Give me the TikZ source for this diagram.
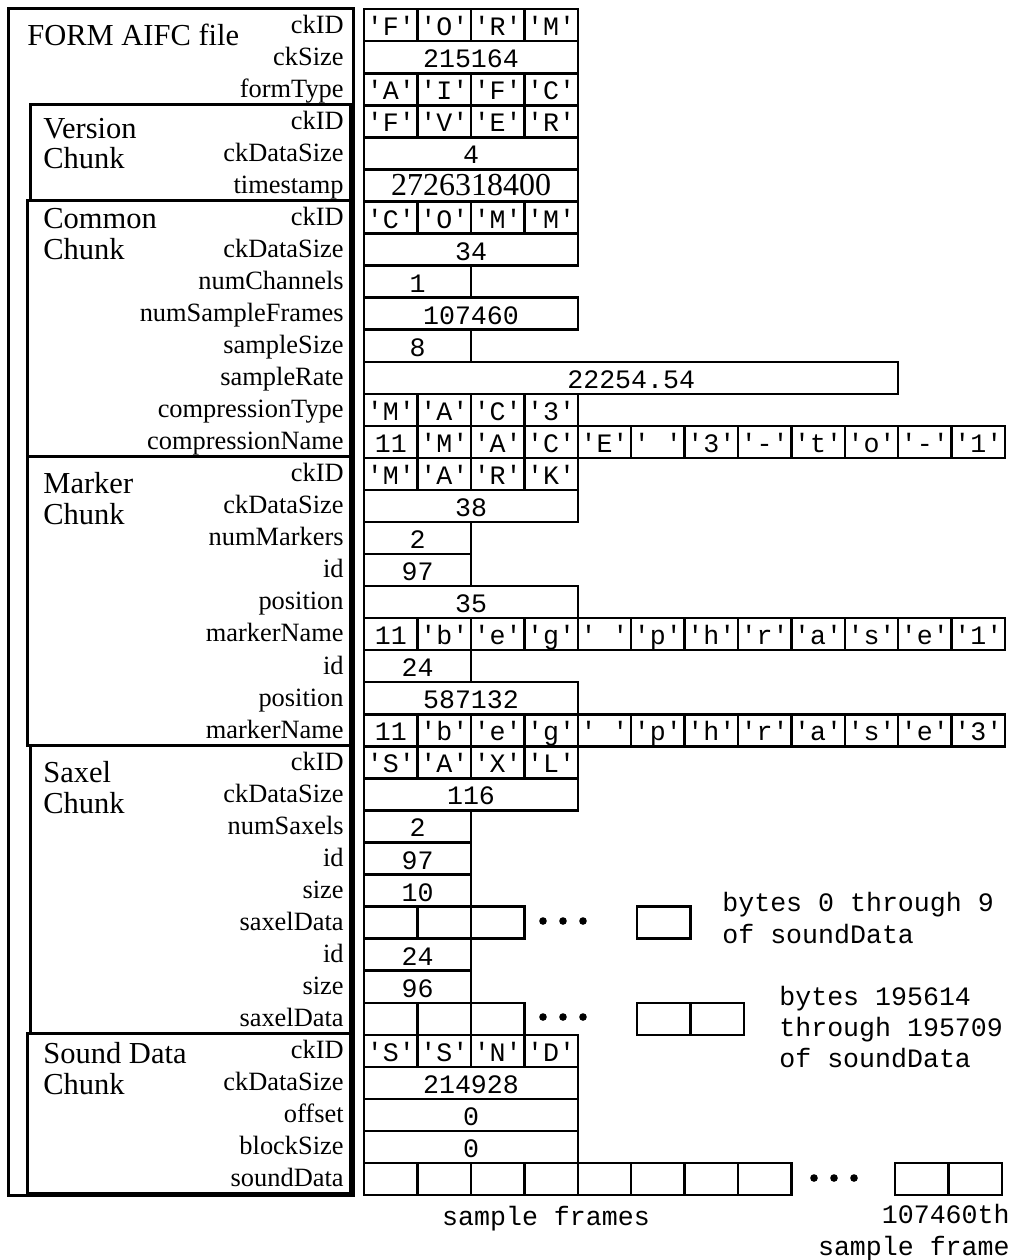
\documentclass[tikz,border=0pt]{standalone}
\usepackage{fontspec}
\setmainfont{Liberation Serif}
\setmonofont{Liberation Mono}
\usetikzlibrary{positioning}

\tikzset{
  cell/.style={draw, line width=1.2pt, anchor=north west, inner sep=0pt,
    minimum width=26.7pt, minimum height=16pt, text height=10.5pt, text depth=0pt,
    font=\fontsize{13.3}{14}\ttfamily},
  lab/.style={anchor=base east, inner sep=0pt, font=\fontsize{13.2}{14}\selectfont},
  ttl/.style={anchor=base west, inner sep=0pt, font=\fontsize{15.25}{16}\selectfont},
  chunk/.style={line width=1.5pt},
  note/.style={anchor=west, inner sep=0pt, align=left, font=\fontsize{13.3}{16}\ttfamily},
}

\begin{document}
\begin{tikzpicture}[x=0.5pt,y=-0.5pt]
\useasboundingbox (0,0) rectangle (1015,1260);

\def\rh{32.05}   % row height
\def\cw{53.4}    % byte width
% one byte per cell
\def\qrow#1#2{\foreach \ch [count=\k from 0] in {#2}
  \node[cell] (r#1c\k) at ({363+\cw*\k},{8+\rh*#1}) {\ch};}
% one wide box
\def\wbox#1#2#3{\node[cell, minimum width=#2*26.7pt] (r#1) at (363,{8+\rh*#1}) {#3};}
% empty cells
\def\brow#1#2#3#4{\foreach \k in {1,...,#4}
  \node[cell] (#1\k) at ({#2+\cw*(\k-1)},{8+\rh*#3}) {};}
% field name
\def\field#1#2{\node[lab] (l#1) at (344,{8+\rh*#1+25}) {#2};}
% dots
\def\ellip#1#2{\foreach \i in {0,1,2} \fill ({#1+20*\i},#2) circle[radius=1.9pt];}

% chunk frames
\draw[chunk] (8,8) rectangle (353,1195);
\draw[chunk] (30,{8+3*\rh}) rectangle (350,{8+6*\rh});
\draw[chunk] (27,{8+6*\rh}) rectangle (350,{8+14*\rh});
\draw[chunk] (27,{8+14*\rh}) rectangle (350,{8+23*\rh});
\draw[chunk] (30,{8+23*\rh}) rectangle (350,{8+32*\rh});
\draw[chunk] (27,{8+32*\rh}) rectangle (350,{8+37*\rh});

% chunk titles
\node[ttl] (tform) at (27,45) {FORM AIFC file};
\node[ttl] (tver) at (43,138) {Version};
\node[ttl] (tver2) at (43,168) {Chunk};
\node[ttl] (tcomm) at (43,228) {Common};
\node[ttl] (tcomm2) at (43,259) {Chunk};
\node[ttl] (tmark) at (43,493) {Marker};
\node[ttl] (tmark2) at (43,524) {Chunk};
\node[ttl] (tsaxl) at (43,782) {Saxel};
\node[ttl] (tsaxl2) at (43,813) {Chunk};
\node[ttl] (tssnd) at (43,1063) {Sound Data};
\node[ttl] (tssnd2) at (43,1094) {Chunk};

% FORM
\field{0}{ckID}        \qrow{0}{'F','O','R','M'}
\field{1}{ckSize}      \wbox{1}{4}{215164}
\field{2}{formType}    \qrow{2}{'A','I','F','C'}
% FVER
\field{3}{ckID}        \qrow{3}{'F','V','E','R'}
\field{4}{ckDataSize}  \wbox{4}{4}{4}
\field{5}{timestamp}   \wbox{5}{4}{\rmfamily\fontsize{16}{18}\selectfont 2726318400}
% COMM
\field{6}{ckID}        \qrow{6}{'C','O','M','M'}
\field{7}{ckDataSize}  \wbox{7}{4}{34}
\field{8}{numChannels} \wbox{8}{2}{1}
\field{9}{numSampleFrames} \wbox{9}{4}{107460}
\field{10}{sampleSize} \wbox{10}{2}{8}
\field{11}{sampleRate} \wbox{11}{10}{22254.54}
\field{12}{compressionType} \qrow{12}{'M','A','C','3'}
\field{13}{compressionName} \qrow{13}{11,'M','A','C','E',' ','3','-','t','o','-','1'}
% MARK
\field{14}{ckID}       \qrow{14}{'M','A','R','K'}
\field{15}{ckDataSize} \wbox{15}{4}{38}
\field{16}{numMarkers} \wbox{16}{2}{2}
\field{17}{id}         \wbox{17}{2}{97}
\field{18}{position}   \wbox{18}{4}{35}
\field{19}{markerName} \qrow{19}{11,'b','e','g',' ','p','h','r','a','s','e','1'}
\field{20}{id}         \wbox{20}{2}{24}
\field{21}{position}   \wbox{21}{4}{587132}
\field{22}{markerName} \qrow{22}{11,'b','e','g',' ','p','h','r','a','s','e','3'}
% SAXL
\field{23}{ckID}       \qrow{23}{'S','A','X','L'}
\field{24}{ckDataSize} \wbox{24}{4}{116}
\field{25}{numSaxels}  \wbox{25}{2}{2}
\field{26}{id}         \wbox{26}{2}{97}
\field{27}{size}       \wbox{27}{2}{10}
\field{28}{saxelData}  \brow{sa}{363}{28}{3} \brow{sz}{636}{28}{1}
\field{29}{id}         \wbox{29}{2}{24}
\field{30}{size}       \wbox{30}{2}{96}
\field{31}{saxelData}  \brow{sb}{363}{31}{3} \brow{sy}{636}{31}{2}
% SSND
\field{32}{ckID}       \qrow{32}{'S','S','N','D'}
\field{33}{ckDataSize} \wbox{33}{4}{214928}
\field{34}{offset}     \wbox{34}{4}{0}
\field{35}{blockSize}  \wbox{35}{4}{0}
\field{36}{soundData}  \brow{fr}{363}{36}{8} \brow{fl}{894}{36}{2}

\ellip{543}{921}
\ellip{543}{1017}
\ellip{814}{1178}

% notes
\node[note] (n0) at (722,918) {bytes 0 through 9\\of soundData};
\node[note, font=\fontsize{13.3}{15.5}\ttfamily] (n1) at (779,1027) {bytes 195614\\through 195709\\of soundData};
\node[note, anchor=center] (n2) at (546,1219) {sample frames};
\node[note, anchor=east, align=right] (n3) at (1010,1233) {107460th\\sample frame};

\end{tikzpicture}
\end{document}
